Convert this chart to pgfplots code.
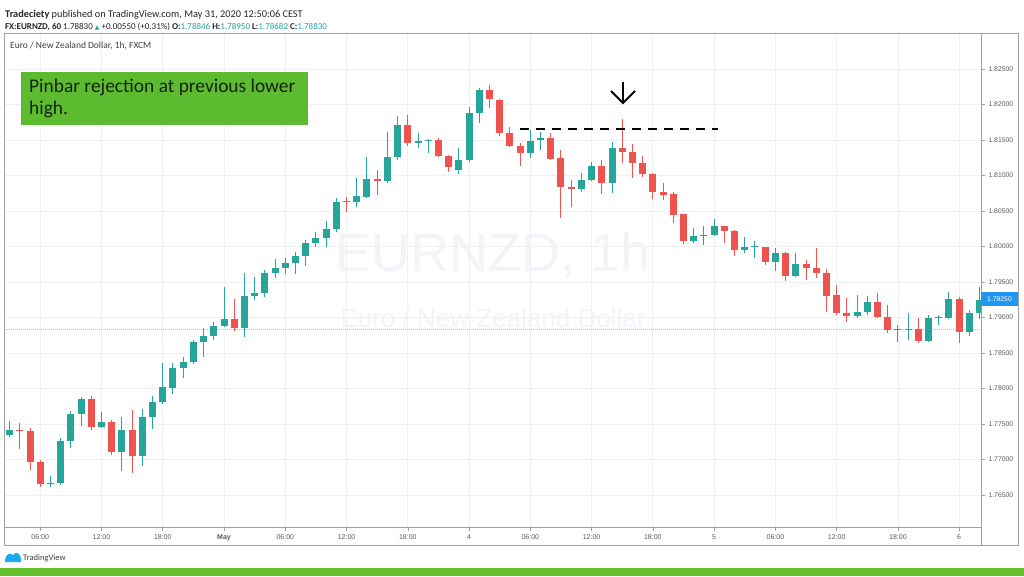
\documentclass[border=0pt]{standalone}
\usepackage{pgfplots}
\pgfplotsset{compat=1.18}
\usepackage{pgfplotstable}
\usepackage{fontspec}
\setmainfont{Liberation Sans}
\newfontfamily\calibri{Carlito}
\newfontfamily\dejavu{DejaVu Sans}
\definecolor{tvgreen}{HTML}{26A69A}
\definecolor{tvred}{HTML}{EF5350}
\definecolor{gridc}{HTML}{EEF0F4}
\definecolor{axisc}{HTML}{A0A0A0}
\definecolor{labc}{HTML}{5A5A5A}
\definecolor{boxgreen}{HTML}{5DBB2F}
\definecolor{bandgreen}{HTML}{62C02A}
\definecolor{tvblue}{HTML}{2196F3}
\definecolor{wm}{HTML}{F3F4F8}
\definecolor{lastline}{HTML}{9CC8EC}
\definecolor{boxtext}{HTML}{16220E}

% bullish candles: index, open, high, low, close
\pgfplotstableread{
i o h l c
0 1.77345 1.77542 1.77317 1.77415
4 1.76655 1.76767 1.76613 1.76669
5 1.76669 1.77303 1.76641 1.77260
6 1.77260 1.77683 1.77162 1.77641
7 1.77641 1.77880 1.77472 1.77852
9 1.77458 1.77669 1.77444 1.77528
11 1.77106 1.77599 1.76838 1.77415
13 1.77049 1.77711 1.76908 1.77599
14 1.77599 1.77894 1.77430 1.77810
15 1.77810 1.78359 1.77782 1.78021
16 1.78007 1.78359 1.77922 1.78289
17 1.78289 1.78444 1.78148 1.78373
18 1.78373 1.78683 1.78345 1.78655
19 1.78655 1.78852 1.78444 1.78739
20 1.78739 1.78937 1.78683 1.78880
21 1.78880 1.79430 1.78866 1.78979
23 1.78852 1.79627 1.78725 1.79303
24 1.79303 1.79570 1.79246 1.79345
25 1.79345 1.79669 1.79289 1.79627
26 1.79627 1.79824 1.79556 1.79697
27 1.79697 1.79838 1.79613 1.79768
28 1.79768 1.79923 1.79613 1.79866
29 1.79866 1.80092 1.79725 1.80049
30 1.80049 1.80204 1.79993 1.80120
31 1.80120 1.80359 1.79993 1.80246
32 1.80246 1.80683 1.80204 1.80627
34 1.80627 1.80965 1.80556 1.80711
35 1.80697 1.81260 1.80683 1.80951
37 1.80923 1.81613 1.80894 1.81260
38 1.81260 1.81838 1.81218 1.81711
40 1.81458 1.81599 1.81387 1.81486
41 1.81486 1.81514 1.81317 1.81500
44 1.81077 1.81387 1.81021 1.81218
45 1.81218 1.81965 1.81190 1.81880
46 1.81880 1.82232 1.81739 1.82204
51 1.81317 1.81641 1.81246 1.81486
52 1.81500 1.81613 1.81359 1.81528
56 1.80810 1.81035 1.80768 1.80937
57 1.80937 1.81190 1.80923 1.81134
59 1.80894 1.81472 1.80754 1.81387
67 1.80077 1.80261 1.80049 1.80148
68 1.80148 1.80289 1.80021 1.80162
69 1.80162 1.80387 1.80148 1.80289
72 1.79951 1.80134 1.79908 1.79993
73 1.79993 1.80077 1.79838 1.80007
75 1.79782 1.79979 1.79655 1.79908
77 1.79585 1.79908 1.79570 1.79754
83 1.79021 1.79317 1.78993 1.79077
84 1.79077 1.79303 1.79035 1.79218
87 1.78824 1.78894 1.78655 1.78838
88 1.78824 1.79063 1.78683 1.78838
90 1.78669 1.79035 1.78655 1.78993
91 1.78993 1.79035 1.78894 1.79007
92 1.78993 1.79359 1.78979 1.79261
94 1.78796 1.79106 1.78739 1.79063
95 1.79063 1.79430 1.78979 1.79250
}\bull

% bearish candles: index, open, high, low, close
\pgfplotstableread{
i o h l c
1 1.77415 1.77514 1.77148 1.77401
2 1.77401 1.77444 1.76852 1.76965
3 1.76965 1.76993 1.76613 1.76655
8 1.77852 1.77894 1.77415 1.77458
10 1.77528 1.77556 1.77063 1.77106
12 1.77415 1.77697 1.76810 1.77049
22 1.78979 1.79261 1.78810 1.78852
33 1.80641 1.80697 1.80486 1.80627
36 1.80951 1.81077 1.80725 1.80923
39 1.81711 1.81852 1.81416 1.81458
42 1.81500 1.81528 1.81260 1.81275
43 1.81275 1.81289 1.81049 1.81120
47 1.82204 1.82275 1.81951 1.82077
48 1.82063 1.82077 1.81556 1.81599
49 1.81599 1.81683 1.81401 1.81416
50 1.81416 1.81458 1.81134 1.81317
53 1.81528 1.81599 1.81218 1.81232
54 1.81246 1.81359 1.80401 1.80838
55 1.80838 1.80937 1.80556 1.80810
58 1.81134 1.81218 1.80739 1.80894
60 1.81387 1.81796 1.81176 1.81331
61 1.81331 1.81444 1.80965 1.81176
62 1.81176 1.81275 1.80979 1.81021
63 1.81021 1.81035 1.80669 1.80768
64 1.80768 1.80894 1.80655 1.80725
65 1.80739 1.80768 1.80331 1.80444
66 1.80458 1.80458 1.80035 1.80077
70 1.80289 1.80289 1.80049 1.80218
71 1.80218 1.80232 1.79866 1.79951
74 1.79993 1.79993 1.79739 1.79782
76 1.79908 1.79923 1.79514 1.79585
78 1.79754 1.79810 1.79528 1.79697
79 1.79697 1.79979 1.79556 1.79627
80 1.79627 1.79683 1.79077 1.79303
81 1.79317 1.79458 1.79035 1.79063
82 1.79063 1.79275 1.78937 1.79021
85 1.79218 1.79345 1.78993 1.79000
86 1.79007 1.79176 1.78782 1.78824
89 1.78838 1.78993 1.78641 1.78669
93 1.79261 1.79289 1.78641 1.78796
}\bear

\begin{document}
\begin{tikzpicture}[x=1pt,y=1pt]
% page background and bottom band
\fill[white] (0,0) rectangle (1024,576);
\fill[bandgreen] (0,0) rectangle (1024,8);

% header
\node[anchor=base west, inner sep=0, font=\calibri\fontsize{10.3}{12}\selectfont, text=black!85] at (5,558)
  {\textbf{Tradeciety} published on TradingView.com, May 31, 2020 12:50:06 CEST};
\node[anchor=base west, inner sep=0, font=\calibri\fontsize{9}{11}\selectfont, text=black!85] at (5,546)
  {\textbf{FX:EURNZD, 60}\ 1.78830 {\color{tvgreen}\dejavu\fontsize{6}{7}\selectfont ▲} +0.00550 (+0.31\%) \textbf{O:}{\color{tvgreen}1.78846} \textbf{H:}{\color{tvgreen}1.78950} \textbf{L:}{\color{tvgreen}1.78682} \textbf{C:}{\color{tvgreen}1.78830}};

% watermark
\node[font=\fontsize{54}{60}\selectfont, text=wm] at (493,321) {EURNZD, 1h};
\node[font=\fontsize{26}{30}\selectfont, text=wm] at (493,258) {Euro / New Zealand Dollar};

\begin{axis}[
  at={(4pt,49pt)}, anchor=south west,
  scale only axis, width=977pt, height=494pt,
  xmin=-0.55, xmax=95.14, ymin=1.76049, ymax=1.83007,
  axis line style={draw=axisc, line width=0.7pt},
  xtick={3,9,15,21,27,33,39,45,51,57,63,69,75,81,87,93},
  xticklabels={06:00,12:00,18:00,\textbf{May},06:00,12:00,18:00,4,06:00,12:00,18:00,5,06:00,12:00,18:00,6},
  ytick={1.765,1.770,1.775,1.780,1.785,1.790,1.795,1.800,1.805,1.810,1.815,1.820,1.825},
  yticklabels={1.76500,1.77000,1.77500,1.78000,1.78500,1.79000,1.79500,1.80000,1.80500,1.81000,1.81500,1.82000,1.82500},
  xtick pos=bottom, ytick pos=right, yticklabel pos=right,
  tick align=outside, major tick length=4pt,
  tick style={draw=axisc, line width=0.6pt},
  grid=major, major grid style={draw=gridc, line width=0.8pt},
  xticklabel style={font=\fontsize{7}{8}\selectfont, text=labc},
  yticklabel style={font=\fontsize{6.8}{8}\selectfont, text=labc},
  clip=true,
]
% last price line
\addplot[lastline, line width=0.8pt, dash pattern=on 1pt off 1pt] coordinates {(-1,1.78830) (96,1.78830)};

% wicks
\addplot[draw=none, no markers, error bars/.cd, y dir=minus, y explicit, error mark=none,
  error bar style={line width=1pt, draw=tvgreen}]
  table[x=i, y=h, y error minus expr=\thisrow{h}-\thisrow{l}] {\bull};
\addplot[draw=none, no markers, error bars/.cd, y dir=minus, y explicit, error mark=none,
  error bar style={line width=1pt, draw=tvred}]
  table[x=i, y=h, y error minus expr=\thisrow{h}-\thisrow{l}] {\bear};
% bodies
\addplot[draw=none, no markers, error bars/.cd, y dir=minus, y explicit, error mark=none,
  error bar style={line width=7pt, draw=tvgreen}]
  table[x=i, y=c, y error minus expr=\thisrow{c}-\thisrow{o}] {\bull};
\addplot[draw=none, no markers, error bars/.cd, y dir=minus, y explicit, error mark=none,
  error bar style={line width=7pt, draw=tvred}]
  table[x=i, y=o, y error minus expr=\thisrow{o}-\thisrow{c}] {\bear};

% previous lower high
\addplot[black, line width=2pt, dash pattern=on 9pt off 7pt] coordinates {(49.99,1.81655) (69.38,1.81655)};
\end{axis}

% pane borders
\draw[axisc, line width=0.7pt] (4,31) rectangle (1018,543);
\draw[axisc, line width=0.7pt] (981,31) -- (981,543);

% arrow at the pinbar
\draw[black, line width=1.8pt] (623,494) -- (623,473);
\draw[black, line width=1.8pt, line join=miter] (611,485) -- (623,473) -- (635,485);

% price tag
\fill[tvblue] (981,270) rectangle (1018,284);
\node[font=\fontsize{6.8}{8}\selectfont, text=white] at (999.5,277) {1.79250};

% callout
\fill[boxgreen] (21,451) rectangle (308,504);
\node[anchor=base west, inner sep=0, font=\calibri\fontsize{19.4}{23}\selectfont, text=boxtext] at (29,483) {Pinbar rejection at previous lower};
\node[anchor=base west, inner sep=0, font=\calibri\fontsize{19.4}{23}\selectfont, text=boxtext] at (29,461) {high.};

% pane title
\node[anchor=base west, inner sep=0, font=\calibri\fontsize{9.5}{10}\selectfont, text=black!75] at (10,527) {Euro / New Zealand Dollar, 1h, FXCM};

% footer logo
\fill[tvblue!80!cyan] (5,14) .. controls (5,22) and (10,24) .. (13,21) .. controls (15,25) and (21,23) .. (21,17) -- (21,14) -- cycle;
\node[anchor=base west, inner sep=0, font=\calibri\fontsize{8.5}{9}\selectfont, text=black!75] at (23,16) {TradingView};
\end{tikzpicture}
\end{document}
